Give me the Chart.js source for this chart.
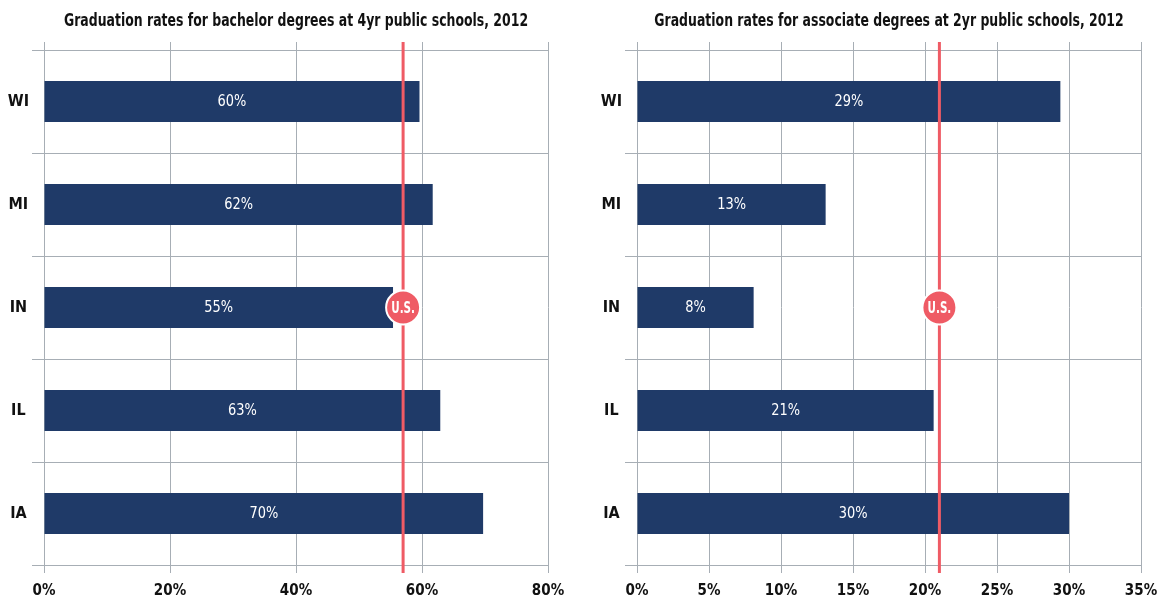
<!DOCTYPE html>
<html>
<head>
<meta charset="utf-8">
<script src="https://cdn.jsdelivr.net/npm/chart.js@4.4.0/dist/chart.umd.min.js"></script>
<style>
  html, body { margin: 0; padding: 0; background: #fff; }
  #wrap { display: flex; width: 1157px; height: 604px; }
  .box { position: relative; height: 604px; }
</style>
</head>
<body>
<div id="wrap">
  <div class="box" style="width:578px"><canvas id="left"></canvas></div>
  <div class="box" style="width:579px"><canvas id="right"></canvas></div>
</div>
<script>
const states = ['WI', 'MI', 'IN', 'IL', 'IA'];
const bachelorRates = [59.6, 61.7, 55.4, 62.9, 69.7];
const associateRates = [29.4, 13.1, 8.1, 20.6, 30.0];
const usBachelor = 57;
const usAssociate = 21;
const bachelorTitle = 'Graduation rates for bachelor degrees at 4yr public schools, 2012';
const associateTitle = 'Graduation rates for associate degrees at 2yr public schools, 2012';

const FONT = '"Liberation Sans Narrow", "DejaVu Sans Condensed", sans-serif';
const NAVY = '#1f3a68';
const RED = '#ef5b65';
const GRID = '#a7aeb5';

// texto angosto (la fuente original es condensada)
function narrowText(ctx, text, x, y, sx) {
  ctx.save();
  ctx.translate(x, y);
  ctx.scale(sx, 1);
  ctx.fillText(text, 0, 0);
  ctx.restore();
}

// titulo, linea roja del promedio nacional + etiquetas de barras
const usLine = {
  id: 'usLine',
  afterDatasetsDraw(chart, args, opts) {
    const { ctx, chartArea, scales } = chart;
    const x = scales.x.getPixelForValue(opts.value);
    ctx.save();
    ctx.textAlign = 'center';
    ctx.textBaseline = 'middle';
    // titulo centrado sobre el area
    ctx.fillStyle = '#111';
    ctx.font = 'bold 18px ' + FONT;
    narrowText(ctx, opts.title, (chartArea.left + chartArea.right) / 2, 21, 0.77);
    // marcas arriba del area
    ctx.strokeStyle = GRID;
    ctx.lineWidth = 1;
    scales.x.ticks.forEach(t => {
      const px = Math.round(scales.x.getPixelForValue(t.value)) + 0.5;
      ctx.beginPath();
      ctx.moveTo(px, chartArea.top - 8);
      ctx.lineTo(px, chartArea.top);
      ctx.stroke();
    });
    // etiquetas
    const meta = chart.getDatasetMeta(0);
    ctx.fillStyle = '#fff';
    ctx.font = '16px ' + FONT;
    meta.data.forEach((bar, i) => {
      const v = chart.data.datasets[0].data[i];
      narrowText(ctx, Math.round(v) + '%', (bar.base + bar.x) / 2, bar.y, 0.9);
    });
    // linea
    ctx.strokeStyle = RED;
    ctx.lineWidth = 3;
    ctx.beginPath();
    ctx.moveTo(x, chartArea.top - 8);
    ctx.lineTo(x, chartArea.bottom + 8);
    ctx.stroke();
    // circulo
    const cy = scales.y.getPixelForValue(2);
    ctx.beginPath();
    ctx.arc(x, cy, 17, 0, Math.PI * 2);
    ctx.fillStyle = RED;
    ctx.fill();
    ctx.lineWidth = 2;
    ctx.strokeStyle = '#fff';
    ctx.stroke();
    ctx.fillStyle = '#fff';
    ctx.font = 'bold 16px ' + FONT;
    narrowText(ctx, 'U.S.', x, cy + 1, 0.72);
    ctx.restore();
  }
};

function makeChart(id, title, values, usValue, max, step, yWidth, pad) {
  return new Chart(document.getElementById(id), {
    type: 'bar',
    data: {
      labels: states,
      datasets: [{
        data: values,
        backgroundColor: NAVY,
        barPercentage: 0.4,
        categoryPercentage: 1,
      }]
    },
    options: {
      indexAxis: 'y',
      responsive: true,
      maintainAspectRatio: false,
      animation: false,
      layout: { padding: pad },
      scales: {
        x: {
          min: 0, max: max,
          afterFit: s => { s.height = 39; s.paddingRight = 0; },
          ticks: {
            stepSize: step,
            padding: 9,
            color: '#111',
            font: { family: FONT, size: 15, weight: 'bold' },
            callback: v => v + '%',
          },
          grid: { color: GRID, tickLength: 8 },
          border: { color: GRID },
        },
        y: {
          afterFit: s => { s.width = yWidth; },
          ticks: {
            crossAlign: 'center',
            color: '#111',
            font: { family: FONT, size: 16, weight: 'bold' },
          },
          grid: { color: GRID, tickLength: 12 },
          border: { color: GRID },
        }
      },
      plugins: {
        legend: { display: false },
        tooltip: { enabled: false },
        title: { display: false },
        usLine: { value: usValue, title: title },
      }
    },
    plugins: [usLine]
  });
}

makeChart('left', bachelorTitle, bachelorRates, usBachelor, 80, 20, 44,
  { left: 0, right: 30, top: 50, bottom: 0 });
makeChart('right', associateTitle, associateRates, usAssociate, 35, 5, 39,
  { left: 20, right: 16, top: 50, bottom: 0 });
</script>
</body>
</html>
